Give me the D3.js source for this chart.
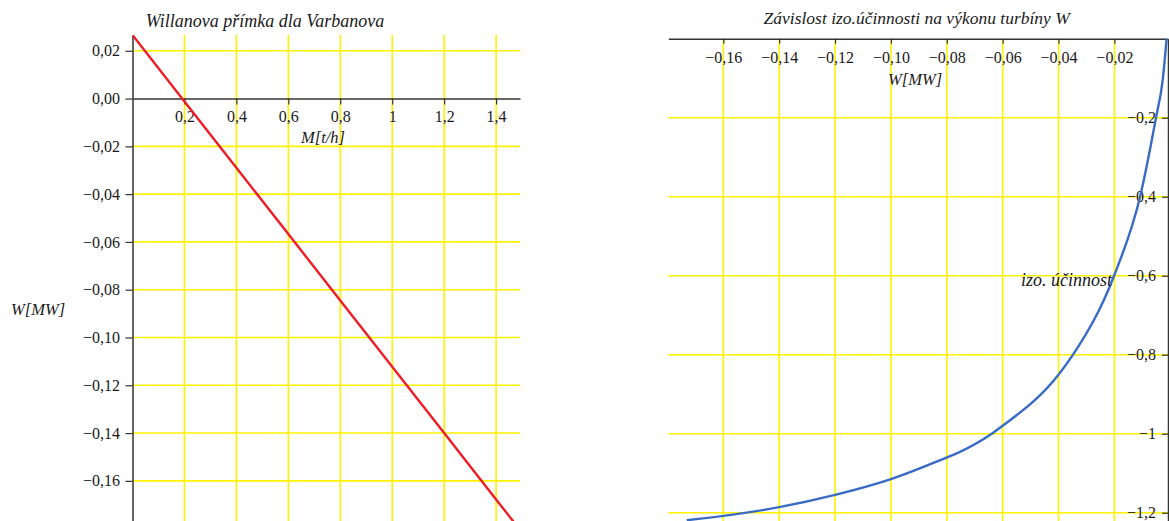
<!DOCTYPE html>
<html>
<head>
<meta charset="utf-8">
<script src="https://cdn.jsdelivr.net/npm/d3@7"></script>
<style>
  html, body { margin: 0; padding: 0; background: #fff; }
  svg { display: block; }
</style>
</head>
<body>
<svg id="chart" width="1169" height="521"></svg>
<script>
// ---------- Left chart: Willanova přímka ----------
const leftTitle = "Willanova přímka dla Varbanova";
const leftXLabel = "M[t/h]";
const leftYLabel = "W[MW]";
const massFlow = [0, 0.2, 0.4, 0.6, 0.8, 1.0, 1.2, 1.4, 1.5];
const powerW = [0.0266, -0.0012, -0.029, -0.0567, -0.0845, -0.1122, -0.14, -0.1678, -0.1816];
const leftXTicks = [0.2, 0.4, 0.6, 0.8, 1.0, 1.2, 1.4];
const leftXTickLabels = ["0,2", "0,4", "0,6", "0,8", "1", "1,2", "1,4"];
const leftYTicks = [0.02, 0, -0.02, -0.04, -0.06, -0.08, -0.10, -0.12, -0.14, -0.16];
const leftYTickLabels = ["0,02", "0,00", "−0,02", "−0,04", "−0,06", "−0,08", "−0,10", "−0,12", "−0,14", "−0,16"];

// ---------- Right chart: izo. účinnost vs W ----------
const rightTitle = "Závislost izo.účinnosti na výkonu turbíny W";
const rightXLabel = "W[MW]";
const rightSeriesLabel = "izo. účinnost";
const turbineW = [-0.1731, -0.16, -0.14, -0.12, -0.10, -0.0824, -0.0753, -0.0639, -0.06, -0.0398, -0.0348, -0.0201, -0.0108, -0.0051, -0.0027, -0.0013];
const isoEff = [-1.219, -1.208, -1.186, -1.155, -1.115, -1.067, -1.046, -1.0, -0.980, -0.849, -0.8, -0.6, -0.4, -0.2, -0.105, 0];
const rightXTicks = [-0.16, -0.14, -0.12, -0.10, -0.08, -0.06, -0.04, -0.02];
const rightXTickLabels = ["−0,16", "−0,14", "−0,12", "−0,10", "−0,08", "−0,06", "−0,04", "−0,02"];
const rightYTicks = [-0.2, -0.4, -0.6, -0.8, -1.0, -1.2];
const rightYTickLabels = ["−0,2", "−0,4", "−0,6", "−0,8", "−1", "−1,2"];

const SERIF = "'Liberation Serif', 'Times New Roman', 'DejaVu Serif', serif";
const GRID = "#fff200";
const AXIS = "#333";

const svg = d3.select("#chart");
svg.append("rect").attr("width", 1169).attr("height", 521).attr("fill", "#fff");

function labelFor(ticks, labels) {
  return d => labels[ticks.findIndex(t => Math.abs(t - d) < 1e-9)];
}
function styleAxis(a) {
  a.attr("font-family", SERIF).attr("font-size", 16);
  a.select(".domain").attr("stroke", AXIS).attr("stroke-width", 1.5);
  a.selectAll(".tick line").attr("stroke", AXIS).attr("stroke-width", 1.2);
  a.selectAll(".tick text").attr("fill", "#1a1a1a")
    .style("font-family", SERIF).style("font-size", "16px");
}
function addLabel(g, txt, x, y, size, anchor) {
  g.append("text").attr("x", x).attr("y", y)
    .attr("text-anchor", anchor || "start")
    .style("font-family", SERIF).style("font-style", "italic").style("font-size", size + "px")
    .attr("fill", "#1a1a1a").text(txt);
}

// ===== LEFT =====
{
  const x = d3.scaleLinear().domain([0, 1.492]).range([132.5, 520]);
  const y = d3.scaleLinear().domain([-0.1768, 0.0266]).range([521, 35]);
  const g = svg.append("g");

  g.append("defs").append("clipPath").attr("id", "clipL")
    .append("rect").attr("x", x.range()[0]).attr("y", y.range()[1])
    .attr("width", x.range()[1] - x.range()[0]).attr("height", y.range()[0] - y.range()[1]);

  g.selectAll("line.vg").data(leftXTicks).join("line")
    .attr("x1", d => x(d)).attr("x2", d => x(d))
    .attr("y1", y.range()[1]).attr("y2", y.range()[0])
    .attr("stroke", GRID).attr("stroke-width", 1.6);
  g.selectAll("line.hg").data(leftYTicks.filter(d => d !== 0)).join("line")
    .attr("x1", x.range()[0]).attr("x2", x.range()[1])
    .attr("y1", d => y(d)).attr("y2", d => y(d))
    .attr("stroke", GRID).attr("stroke-width", 1.6);

  const xa = g.append("g").attr("transform", `translate(0,${y(0)})`)
    .call(d3.axisBottom(x).tickValues(leftXTicks).tickFormat(labelFor(leftXTicks, leftXTickLabels))
      .tickSize(6).tickPadding(6.5).tickSizeOuter(0));
  const ya = g.append("g").attr("transform", `translate(${x(0)},0)`)
    .call(d3.axisLeft(y).tickValues(leftYTicks).tickFormat(labelFor(leftYTicks, leftYTickLabels))
      .tickSize(7).tickPadding(5.5).tickSizeOuter(0));
  styleAxis(xa); styleAxis(ya);

  const line = d3.line().x((d, i) => x(massFlow[i])).y(d => y(d));
  g.append("path").datum(powerW).attr("d", line)
    .attr("fill", "none").attr("stroke", "#ee1c24").attr("stroke-width", 2.4)
    .attr("clip-path", "url(#clipL)");

  addLabel(g, leftTitle, 265, 27, 18, "middle");
  addLabel(g, leftXLabel, 301, 143, 16.5);
  addLabel(g, leftYLabel, 11, 315, 16.5);
}

// ===== RIGHT =====
{
  const x = d3.scaleLinear().domain([-0.1797, -0.0008]).range([668.3, 1168]);
  const y = d3.scaleLinear().domain([-1.221, 0]).range([521, 38.7]);
  const g = svg.append("g");

  g.append("defs").append("clipPath").attr("id", "clipR")
    .append("rect").attr("x", x.range()[0]).attr("y", y.range()[1])
    .attr("width", x.range()[1] - x.range()[0] + 2).attr("height", y.range()[0] - y.range()[1]);

  g.selectAll("line.vg").data(rightXTicks).join("line")
    .attr("x1", d => x(d)).attr("x2", d => x(d))
    .attr("y1", y.range()[1]).attr("y2", y.range()[0])
    .attr("stroke", GRID).attr("stroke-width", 1.6);
  g.selectAll("line.hg").data(rightYTicks).join("line")
    .attr("x1", x.range()[0]).attr("x2", x.range()[1])
    .attr("y1", d => y(d)).attr("y2", d => y(d))
    .attr("stroke", GRID).attr("stroke-width", 1.6);

  const xa = g.append("g").attr("transform", `translate(0,${y(0)})`)
    .call(d3.axisBottom(x).tickValues(rightXTicks).tickFormat(labelFor(rightXTicks, rightXTickLabels))
      .tickSize(5).tickPadding(7.5).tickSizeOuter(0));
  const ya = g.append("g").attr("transform", `translate(${x.range()[1]},0)`)
    .call(d3.axisLeft(y).tickValues(rightYTicks).tickFormat(labelFor(rightYTicks, rightYTickLabels))
      .tickSize(6).tickPadding(6).tickSizeOuter(0));
  styleAxis(xa); styleAxis(ya);

  const line = d3.line().curve(d3.curveMonotoneX)
    .x((d, i) => x(turbineW[i])).y(d => y(d));
  g.append("path").datum(isoEff).attr("d", line)
    .attr("fill", "none").attr("stroke", "#3a6bc4").attr("stroke-width", 2.4)
    .attr("clip-path", "url(#clipR)");

  addLabel(g, rightTitle, 916.7, 24, 17.5, "middle");
  addLabel(g, rightXLabel, 888, 85, 16.5);
  addLabel(g, rightSeriesLabel, 1112, 286, 18, "end");
}
</script>
</body>
</html>
